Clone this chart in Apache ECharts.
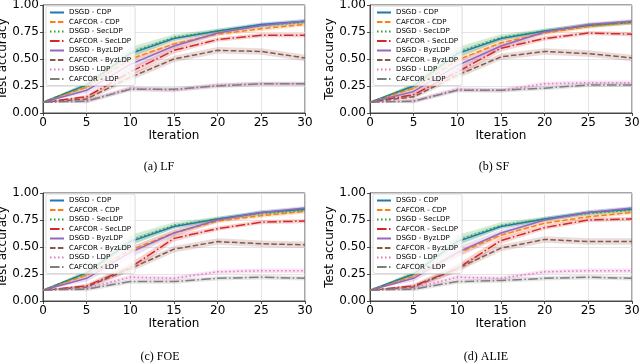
<!DOCTYPE html>
<html lang="en">
<head>
<meta charset="UTF-8">
<title>Test accuracy vs iteration</title>
<style>
  html, body { margin: 0; padding: 0; background: #fff; }
  #main { width: 640px; height: 364px; }
</style>
</head>
<body>
<div id="main"></div>
<script src="https://cdn.jsdelivr.net/npm/echarts@6/dist/echarts.min.js"></script>
<script>
// x positions (iterations) and y ticks
const iterations = [0, 5, 10, 15, 20, 25, 30];
const yTicks = [0, 0.25, 0.5, 0.75, 1.0];

const seriesNames = [
    'DSGD - CDP', 'CAFCOR - CDP', 'DSGD - SecLDP', 'CAFCOR - SecLDP',
    'DSGD - ByzLDP', 'CAFCOR - ByzLDP', 'DSGD - LDP', 'CAFCOR - LDP'
];

// mean accuracy, one row per series (same order as seriesNames)
const accLF = [
    [0.10, 0.26, 0.55, 0.69, 0.76, 0.82, 0.85],
    [0.10, 0.24, 0.50, 0.64, 0.73, 0.78, 0.82],
    [0.10, 0.26, 0.56, 0.70, 0.76, 0.81, 0.84],
    [0.10, 0.15, 0.38, 0.58, 0.68, 0.72, 0.72],
    [0.10, 0.21, 0.45, 0.62, 0.74, 0.81, 0.85],
    [0.10, 0.13, 0.33, 0.50, 0.58, 0.57, 0.51],
    [0.10, 0.11, 0.23, 0.21, 0.26, 0.27, 0.27],
    [0.10, 0.11, 0.22, 0.22, 0.25, 0.27, 0.27]
];
const accSF = [
    [0.10, 0.25, 0.55, 0.69, 0.76, 0.81, 0.84],
    [0.10, 0.23, 0.49, 0.65, 0.74, 0.80, 0.84],
    [0.10, 0.25, 0.56, 0.70, 0.76, 0.81, 0.84],
    [0.10, 0.17, 0.38, 0.60, 0.69, 0.74, 0.73],
    [0.10, 0.20, 0.44, 0.62, 0.75, 0.82, 0.85],
    [0.10, 0.15, 0.35, 0.52, 0.57, 0.55, 0.51],
    [0.10, 0.11, 0.22, 0.21, 0.27, 0.28, 0.28],
    [0.10, 0.11, 0.21, 0.21, 0.23, 0.26, 0.26]
];
const accFOE = [
    [0.10, 0.26, 0.55, 0.69, 0.76, 0.82, 0.85],
    [0.10, 0.24, 0.47, 0.63, 0.74, 0.79, 0.83],
    [0.10, 0.26, 0.56, 0.70, 0.76, 0.81, 0.84],
    [0.10, 0.14, 0.31, 0.58, 0.67, 0.73, 0.74],
    [0.10, 0.21, 0.45, 0.63, 0.75, 0.82, 0.86],
    [0.10, 0.13, 0.30, 0.48, 0.55, 0.53, 0.52],
    [0.10, 0.12, 0.22, 0.21, 0.27, 0.28, 0.28],
    [0.10, 0.11, 0.18, 0.18, 0.21, 0.22, 0.21]
];
const accALIE = [
    [0.10, 0.25, 0.55, 0.69, 0.76, 0.82, 0.85],
    [0.10, 0.23, 0.44, 0.61, 0.72, 0.78, 0.82],
    [0.10, 0.25, 0.56, 0.70, 0.76, 0.81, 0.84],
    [0.10, 0.14, 0.30, 0.56, 0.68, 0.75, 0.76],
    [0.10, 0.21, 0.45, 0.63, 0.75, 0.82, 0.86],
    [0.10, 0.13, 0.30, 0.49, 0.57, 0.55, 0.55],
    [0.10, 0.12, 0.22, 0.21, 0.27, 0.28, 0.28],
    [0.10, 0.11, 0.18, 0.19, 0.21, 0.22, 0.21]
];

// half width of the shaded band, per series
const spread = [
    [0.00, 0.02, 0.03, 0.02, 0.02, 0.02, 0.02],
    [0.00, 0.02, 0.03, 0.03, 0.02, 0.02, 0.02],
    [0.00, 0.03, 0.05, 0.03, 0.02, 0.02, 0.02],
    [0.00, 0.02, 0.04, 0.03, 0.02, 0.02, 0.02],
    [0.00, 0.03, 0.05, 0.03, 0.02, 0.02, 0.02],
    [0.00, 0.02, 0.03, 0.03, 0.03, 0.03, 0.03],
    [0.00, 0.02, 0.02, 0.02, 0.02, 0.02, 0.02],
    [0.00, 0.02, 0.02, 0.02, 0.02, 0.02, 0.02]
];

const colors = ['#1f77b4', '#ff7f0e', '#2ca02c', '#d62728', '#9467bd', '#8c564b', '#e377c2', '#7f7f7f'];
// matplotlib style dashes at lw 1.5
const dashes = ['solid', [5.5, 2.4], [1.5, 2.5], [9.6, 2.4, 1.5, 2.4],
                'solid', [5.5, 2.4], [1.5, 2.5], [9.6, 2.4, 1.5, 2.4]];

const panels = [
    { acc: accLF,   caption: '(a) LF',   left: 43,  top: 5,   capX: 159, capY: 161 },
    { acc: accSF,   caption: '(b) SF',   left: 370, top: 5,   capX: 494, capY: 161 },
    { acc: accFOE,  caption: '(c) FOE',  left: 43,  top: 193, capX: 160, capY: 351 },
    { acc: accALIE, caption: '(d) ALIE', left: 370, top: 193, capX: 486, capY: 351 }
];
const plotW = 262, plotH = 108;

// whole band as one polygon, drawn on the first item
function renderBand(params, api) {
    if (params.dataIndexInside !== 0) return;
    let n = params.dataInsideLength;
    let upper = [], lower = [];
    for (let j = 0; j < n; j++) {
        lower.push(api.coord([api.value(0, j), api.value(1, j)]));
        upper.push(api.coord([api.value(0, j), api.value(2, j)]));
    }
    return {
        type: 'polygon',
        shape: { points: lower.concat(upper.reverse()) },
        style: { fill: api.visual('color'), opacity: 0.2 },
        silent: true
    };
}

let grids = [], xAxes = [], yAxes = [], legends = [], titles = [], series = [];

panels.forEach(function (p, pi) {
    grids.push({
        left: p.left, top: p.top, width: plotW, height: plotH,
        outerBoundsMode: 'none', containLabel: false,
        show: true, borderColor: '#222', borderWidth: 0.8
    });
    xAxes.push({
        gridIndex: pi, type: 'value', min: 0, max: 30, interval: 5,
        name: 'Iteration', nameLocation: 'middle', nameGap: 17,
        nameTextStyle: { fontFamily: 'DejaVu Sans', fontSize: 12, color: '#000' },
        axisLine: { show: true, onZero: false, lineStyle: { color: '#222', width: 0.8 } },
        axisTick: { show: true, length: 3, lineStyle: { color: '#222', width: 0.8 } },
        axisLabel: { fontFamily: 'DejaVu Sans', fontSize: 12, color: '#000', margin: 4 },
        splitLine: { show: true, lineStyle: { color: '#dedede', width: 0.8 } }
    });
    yAxes.push({
        gridIndex: pi, type: 'value', min: 0, max: 1, interval: 0.25,
        name: 'Test accuracy', nameLocation: 'middle', nameGap: 30,
        nameTextStyle: { fontFamily: 'DejaVu Sans', fontSize: 12, color: '#000' },
        axisLine: { show: true, lineStyle: { color: '#222', width: 0.8 } },
        axisTick: { show: true, length: 3, lineStyle: { color: '#222', width: 0.8 } },
        axisLabel: {
            fontFamily: 'DejaVu Sans', fontSize: 12, color: '#000', margin: 4,
            formatter: function (v) { return v.toFixed(2); }
        },
        splitLine: { show: true, lineStyle: { color: '#dedede', width: 0.8 } }
    });
    legends.push({
        data: seriesNames, orient: 'vertical',
        left: p.left + 3, top: p.top + 1,
        itemWidth: 14, itemHeight: 6, itemGap: 2.5,
        padding: [3, 4, 3, 3],
        backgroundColor: 'rgba(255,255,255,0.8)',
        borderColor: '#d0d0d0', borderWidth: 0.8, borderRadius: 2,
        itemStyle: { opacity: 0 },
        textStyle: { fontFamily: 'DejaVu Sans', fontSize: 7, color: '#000' },
        selectedMode: false
    });
    titles.push({
        text: p.caption, left: p.capX, top: p.capY, textAlign: 'center', padding: 0,
        textStyle: { fontFamily: 'Liberation Serif', fontSize: 12, fontWeight: 'normal', color: '#000' }
    });

    seriesNames.forEach(function (name, i) {
        let mean = p.acc[i];
        series.push({
            type: 'custom', xAxisIndex: pi, yAxisIndex: pi,
            name: 'band' + pi + '_' + i, silent: true, z: 1,
            color: colors[i],
            renderItem: renderBand,
            encode: { x: 0, y: [1, 2] },
            data: iterations.map(function (x, k) {
                return [x, mean[k] - spread[i][k], mean[k] + spread[i][k]];
            })
        });
        series.push({
            type: 'line', xAxisIndex: pi, yAxisIndex: pi,
            name: name, symbol: 'none', z: 3,
            color: colors[i],
            lineStyle: { color: colors[i], width: 1.5, type: dashes[i] },
            data: iterations.map(function (x, k) { return [x, mean[k]]; })
        });
    });
});

let chart = echarts.init(document.getElementById('main'));
chart.setOption({
    animation: false,
    backgroundColor: '#fff',
    title: titles,
    legend: legends,
    grid: grids,
    xAxis: xAxes,
    yAxis: yAxes,
    series: series
});
</script>
</body>
</html>
